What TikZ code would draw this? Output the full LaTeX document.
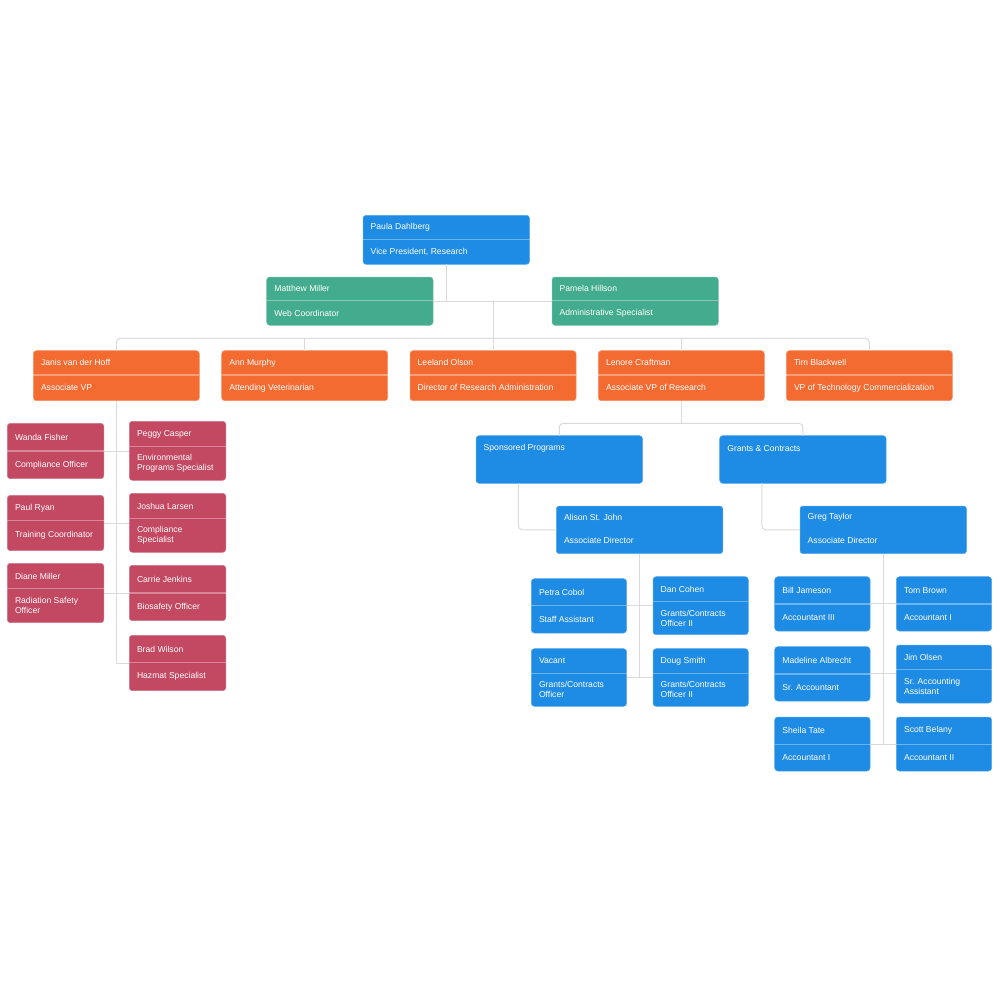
\documentclass[tikz,border=0pt]{standalone}
\usepackage{fontspec}
\setmainfont{Liberation Sans}
\definecolor{cblue}{RGB}{30,139,228}
\definecolor{cgreen}{RGB}{68,172,142}
\definecolor{corange}{RGB}{244,107,50}
\definecolor{cpink}{RGB}{195,72,98}
\definecolor{cline}{RGB}{218,218,218}
\tikzset{
  cardbox/.style={rectangle, rounded corners=3pt, inner sep=0pt, outer sep=0pt, line width=0.5pt},
  bluewide/.style={fill=cblue, draw=cblue!75!white, minimum width=166.5pt},
  greenwide/.style={fill=cgreen, draw=cgreen!75!white, minimum width=166.3pt},
  orangewide/.style={fill=corange, draw=corange!75!white, minimum width=166pt},
  pinknarrow/.style={fill=cpink, draw=cpink!75!white, minimum width=96.5pt},
  bluenarrow/.style={fill=cblue, draw=cblue!75!white, minimum width=95.3pt},
  divline/.style={draw=white, draw opacity=0.35, line width=1.2pt},
  nodiv/.style={draw=none},
  cardtext/.style={anchor=west, align=left, text=white, inner sep=0pt, font=\fontsize{8.6}{10}\selectfont},
  conn/.style={draw=cline, line width=1pt}
}
% #1 divider style, #2 id, #3 x, #4 y, #5 height, #6 box style, #7 divider y, #8 name, #9 title
\newcommand{\orgcard}[9][divline]{%
  \pgfmathsetmacro\cardnx{#3+7.5}%
  \pgfmathsetmacro\cardny{(#4+#7)/2}%
  \pgfmathsetmacro\cardty{(#7+#4+#5)/2}%
  \node[cardbox,#6,minimum height=#5pt,anchor=north west] (#2) at (#3,#4) {};
  \draw[#1] (#2.west |- 0,#7) -- (#2.east |- 0,#7);
  \node[cardtext] (#2n) at (\cardnx,\cardny) {#8};
  \node[cardtext] (#2t) at (\cardnx,\cardty) {#9};
}
\begin{document}
\begin{tikzpicture}[x=1pt,y=-1pt]
\useasboundingbox[fill=white] (0,0) rectangle (1000,1000);

\orgcard{paula}{363}{215.3}{49}{bluewide}{239.3}{Paula Dahlberg}{Vice President, Research}
\orgcard{matthew}{266.7}{277}{48.3}{greenwide}{300.7}{Matthew Miller}{Web Coordinator}
\orgcard{pamela}{552}{277}{48.3}{greenwide}{300.7}{Pamela Hillson}{Administrative Specialist}

\orgcard{janis}{33.3}{350.7}{50}{orangewide}{375}{Janis van der Hoff}{Associate VP}
\orgcard{ann}{221.7}{350.7}{50}{orangewide}{375}{Ann Murphy}{Attending Veterinarian}
\orgcard{leeland}{410}{350.7}{50}{orangewide}{375}{Leeland Olson}{Director of Research Administration}
\orgcard{lenore}{598.3}{350.7}{50}{orangewide}{375}{Lenore Craftman}{Associate VP of Research}
\orgcard{tim}{786.3}{350.7}{50}{orangewide}{375}{Tim Blackwell}{VP of Technology Commercialization}

\orgcard{wanda}{7.3}{423.3}{55.4}{pinknarrow}{451}{Wanda Fisher}{Compliance Officer}
\orgcard{peggy}{129.3}{421.3}{59}{pinknarrow}{446.7}{Peggy Casper}{Environmental\\Programs Specialist}
\orgcard{paul}{7.3}{495.3}{55.4}{pinknarrow}{520.3}{Paul Ryan}{Training Coordinator}
\orgcard{joshua}{129.3}{493.3}{59}{pinknarrow}{518.7}{Joshua Larsen}{Compliance\\Specialist}
\orgcard{diane}{7.3}{563.3}{59.4}{pinknarrow}{588.7}{Diane Miller}{Radiation Safety\\Officer}
\orgcard{carrie}{129.3}{565.3}{55.4}{pinknarrow}{593}{Carrie Jenkins}{Biosafety Officer}
\orgcard{brad}{129.3}{635.3}{55.4}{pinknarrow}{662.7}{Brad Wilson}{Hazmat Specialist}

\orgcard[nodiv]{sponsored}{476}{435.7}{47.6}{bluewide}{461.7}{Sponsored Programs}{}
\orgcard[nodiv]{grants}{719.7}{435.7}{47.6}{bluewide}{461.7}{Grants \& Contracts}{}
\orgcard[nodiv]{alison}{556.3}{506}{47.7}{bluewide}{528}{Alison St. John}{Associate Director}
\orgcard[nodiv]{greg}{800}{506}{47.7}{bluewide}{528}{Greg Taylor}{Associate Director}

\orgcard{petra}{531.3}{578.7}{54.3}{bluenarrow}{605.7}{Petra Cobol}{Staff Assistant}
\orgcard{dan}{653}{576.7}{58}{bluenarrow}{601.3}{Dan Cohen}{Grants/Contracts\\Officer II}
\orgcard{vacant}{531.3}{648.7}{57.6}{bluenarrow}{673.3}{Vacant}{Grants/Contracts\\Officer}
\orgcard{doug}{653}{648.7}{57.6}{bluenarrow}{673.3}{Doug Smith}{Grants/Contracts\\Officer II}

\orgcard{bill}{774.7}{576.7}{54.3}{bluenarrow}{604}{Bill Jameson}{Accountant III}
\orgcard{tom}{896.3}{576.7}{54.3}{bluenarrow}{604}{Tom Brown}{Accountant I}
\orgcard{madeline}{774.7}{646.7}{54.3}{bluenarrow}{674}{Madeline Albrecht}{Sr. Accountant}
\orgcard{jim}{896.3}{645}{58}{bluenarrow}{669.7}{Jim Olsen}{Sr. Accounting\\Assistant}
\orgcard{sheila}{774.7}{717}{54}{bluenarrow}{744.3}{Sheila Tate}{Accountant I}
\orgcard{scott}{896.3}{717}{54}{bluenarrow}{744.3}{Scott Belany}{Accountant II}

% connectors
\draw[conn] (paula.south) -- (paula.south |- matthew.east);
\draw[conn] (matthew.east) -- (pamela.west);
\coordinate (obus) at ([yshift=12.4pt]janis.north);
\draw[conn] (leeland.north |- matthew.east) -- (leeland.north);
\draw[conn, rounded corners=4pt] (janis.north) -- (obus) -| (tim.north);
\draw[conn] (ann.north) -- (ann.north |- obus);
\draw[conn] (lenore.north) -- (lenore.north |- obus);

\draw[conn] (janis.south) -- (janis.south |- brad.west) -- (brad.west);
\draw[conn] (wanda.east) -- (wanda.east -| peggy.west);
\draw[conn] (paul.east) -- (paul.east -| joshua.west);
\draw[conn] (diane.east) -- (diane.east -| carrie.west);

\coordinate (sbus) at ([yshift=12.4pt]sponsored.north);
\draw[conn, rounded corners=4pt] (sponsored.north) -- (sbus) -| (grants.north);
\draw[conn] (lenore.south) -- (lenore.south |- sbus);
\draw[conn, rounded corners=4pt] ([xshift=-41pt]sponsored.south) |- (alison.west);
\draw[conn, rounded corners=4pt] ([xshift=-41pt]grants.south) |- (greg.west);

\draw[conn] (alison.south) -- (alison.south |- vacant.east);
\draw[conn] (petra.east) -- (petra.east -| dan.west);
\draw[conn] (vacant.east) -- (vacant.east -| doug.west);

\draw[conn] (greg.south) -- (greg.south |- sheila.east);
\draw[conn] (bill.east) -- (bill.east -| tom.west);
\draw[conn] (madeline.east) -- (madeline.east -| jim.west);
\draw[conn] (sheila.east) -- (sheila.east -| scott.west);
\end{tikzpicture}
\end{document}
